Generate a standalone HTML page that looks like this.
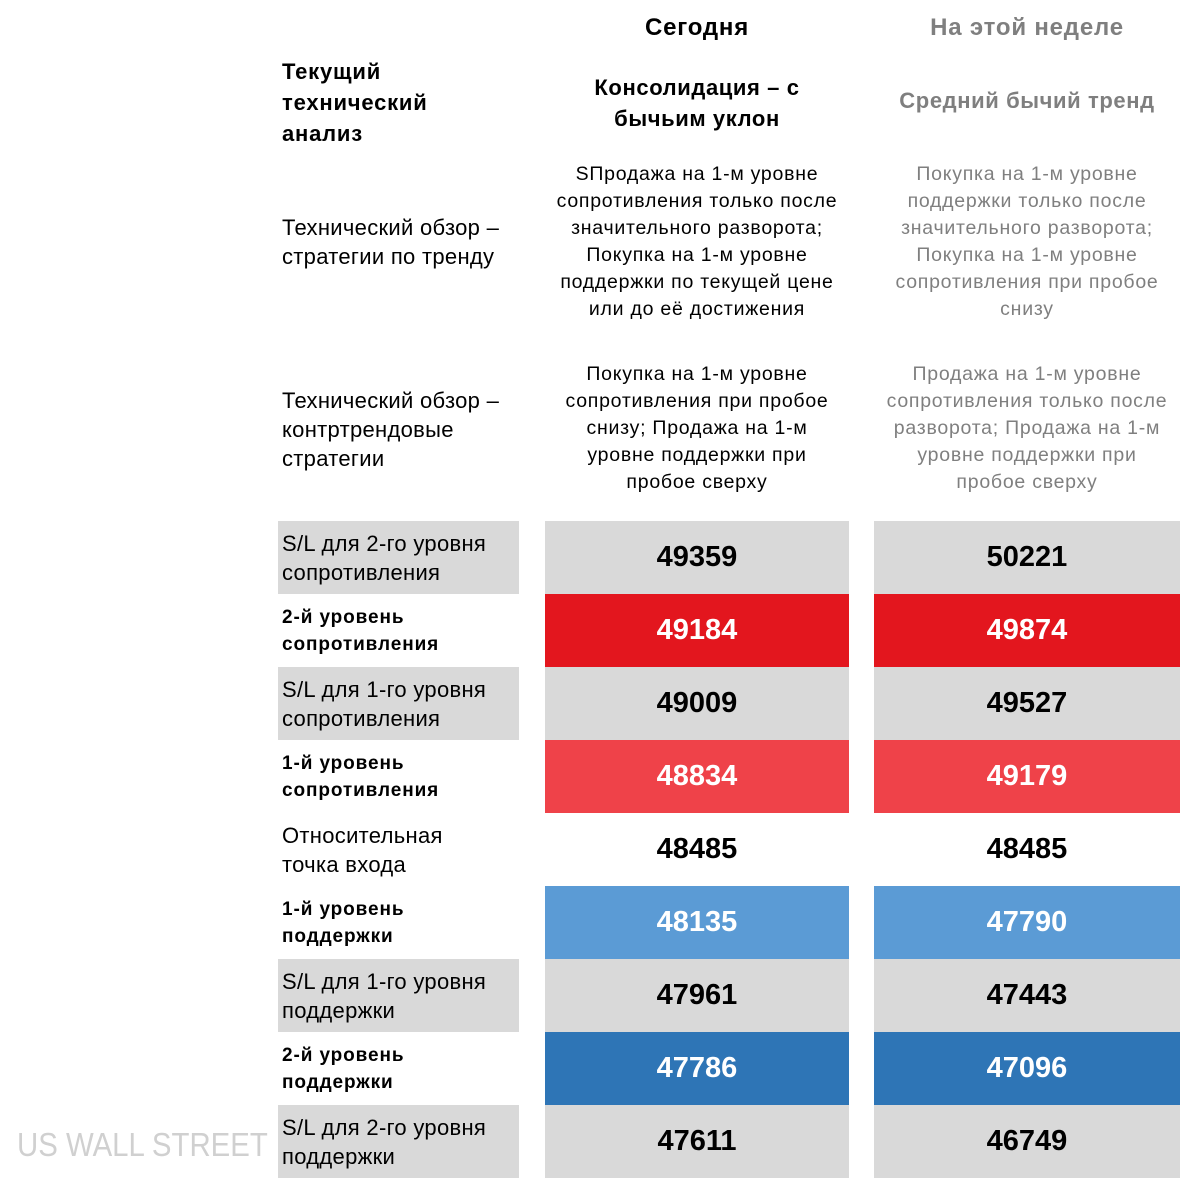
<!DOCTYPE html>
<html><head><meta charset="utf-8"><style>
body{margin:0;width:1181px;height:1181px;background:#fff;position:relative;font-family:"Liberation Sans",Arial,sans-serif;overflow:hidden}
.a{position:absolute}
.c{text-align:center}
.h{font-weight:bold;font-size:24px;letter-spacing:0.8px}
.g{color:#7f7f7f}
.t{font-size:19.5px;line-height:27px;letter-spacing:0.75px;white-space:nowrap}
.lab{font-size:22px;line-height:29px;letter-spacing:0.3px;white-space:nowrap}
.box{position:absolute;height:73px;display:flex;align-items:center}
.L{left:278px;width:241px;padding-left:4px;box-sizing:border-box}
.n{justify-content:center;font-weight:bold;font-size:29px}
.c1{left:545px;width:304px}
.c2{left:874px;width:306px}
.gr{background:#d9d9d9}
.bl{font-weight:bold;font-size:19px;line-height:27px;letter-spacing:0.9px;white-space:nowrap}
.w{color:#fff}
</style></head><body>
<div class="a h c" style="left:545px;width:304px;top:14px">Сегодня</div>
<div class="a h c g" style="left:874px;width:306px;top:14px">На этой неделе</div>
<div class="a" style="left:282px;top:56px;font-weight:bold;font-size:22px;line-height:31px;letter-spacing:0.8px">Текущий<br>технический<br>анализ</div>
<div class="a c" style="left:545px;width:304px;top:72px;font-weight:bold;font-size:22px;line-height:31px;letter-spacing:0.6px">Консолидация – с<br>бычьим уклон</div>
<div class="a c g" style="left:874px;width:306px;top:88px;font-weight:bold;font-size:22px;letter-spacing:0.6px">Средний бычий тренд</div>
<div class="a lab" style="left:282px;top:213px">Технический обзор –<br>стратегии по тренду</div>
<div class="a t c" style="left:540px;width:314px;top:161px">SПродажа на 1-м уровне<br>сопротивления только после<br>значительного разворота;<br>Покупка на 1-м уровне<br>поддержки по текущей цене<br>или до её достижения</div>
<div class="a t c g" style="left:874px;width:306px;top:161px">Покупка на 1-м уровне<br>поддержки только после<br>значительного разворота;<br>Покупка на 1-м уровне<br>сопротивления при пробое<br>снизу</div>
<div class="a lab" style="left:282px;top:386px">Технический обзор –<br>контртрендовые<br>стратегии</div>
<div class="a t c" style="left:545px;width:304px;top:361px">Покупка на 1-м уровне<br>сопротивления при пробое<br>снизу; Продажа на 1-м<br>уровне поддержки при<br>пробое сверху</div>
<div class="a t c g" style="left:874px;width:306px;top:361px">Продажа на 1-м уровне<br>сопротивления только после<br>разворота; Продажа на 1-м<br>уровне поддержки при<br>пробое сверху</div>

<div class="box L gr lab" style="top:521px">S/L для 2-го уровня<br>сопротивления</div>
<div class="box n c1 gr" style="top:521px">49359</div><div class="box n c2 gr" style="top:521px">50221</div>
<div class="box L bl" style="top:594px">2-й уровень<br>сопротивления</div>
<div class="box n c1 w" style="top:594px;background:#e3161e">49184</div><div class="box n c2 w" style="top:594px;background:#e3161e">49874</div>
<div class="box L gr lab" style="top:667px">S/L для 1-го уровня<br>сопротивления</div>
<div class="box n c1 gr" style="top:667px">49009</div><div class="box n c2 gr" style="top:667px">49527</div>
<div class="box L bl" style="top:740px">1-й уровень<br>сопротивления</div>
<div class="box n c1 w" style="top:740px;background:#ef4249">48834</div><div class="box n c2 w" style="top:740px;background:#ef4249">49179</div>
<div class="box L lab" style="top:813px">Относительная<br>точка входа</div>
<div class="box n c1" style="top:813px">48485</div><div class="box n c2" style="top:813px">48485</div>
<div class="box L bl" style="top:886px">1-й уровень<br>поддержки</div>
<div class="box n c1 w" style="top:886px;background:#5b9bd5">48135</div><div class="box n c2 w" style="top:886px;background:#5b9bd5">47790</div>
<div class="box L gr lab" style="top:959px">S/L для 1-го уровня<br>поддержки</div>
<div class="box n c1 gr" style="top:959px">47961</div><div class="box n c2 gr" style="top:959px">47443</div>
<div class="box L bl" style="top:1032px">2-й уровень<br>поддержки</div>
<div class="box n c1 w" style="top:1032px;background:#2e75b6">47786</div><div class="box n c2 w" style="top:1032px;background:#2e75b6">47096</div>
<div class="box L gr lab" style="top:1105px">S/L для 2-го уровня<br>поддержки</div>
<div class="box n c1 gr" style="top:1105px">47611</div><div class="box n c2 gr" style="top:1105px">46749</div>
<div class="a" style="left:17px;top:1126px;font-size:33px;color:#d0d0d0;transform:scaleX(0.89);transform-origin:0 0;white-space:nowrap">US WALL STREET</div>
</body></html>
